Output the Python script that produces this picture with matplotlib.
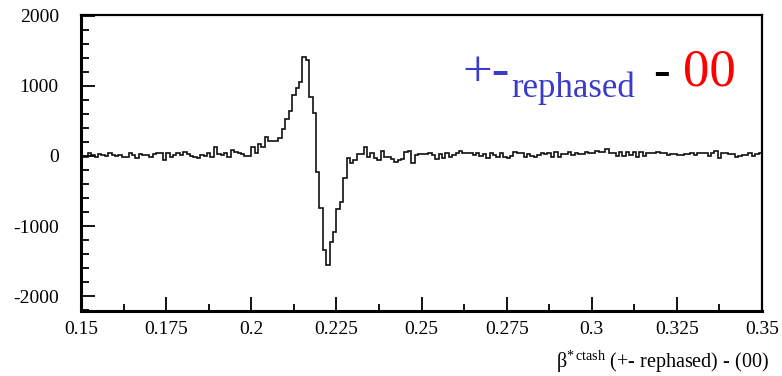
import numpy as np
import matplotlib
matplotlib.use("Agg")
import matplotlib.pyplot as plt
from matplotlib.ticker import MultipleLocator

plt.rcParams["font.family"] = ["Liberation Serif", "DejaVu Serif"]
plt.rcParams["mathtext.fontset"] = "custom"
plt.rcParams["mathtext.rm"] = "Liberation Serif"
plt.rcParams["mathtext.it"] = "Liberation Serif:italic"
plt.rcParams["axes.unicode_minus"] = False

# histogram: 200 bins between 0.15 and 0.35
x_min, x_max, n_bins = 0.15, 0.35, 200

counts_left = [-10, -10, 40, 20, -10, 29, 15, 0, 48, 15, 0, 15, -20, -15, 48,
               15, -33, 29, 10, 20, -10, 35, 38, 38, -57, 38, -20, 15, 48, 15,
               62, 29, 0, -10, -33, 15, 0, 38, -10, 133, 29, 15, 38, -10, 86,
               62, 38, 29, 0]
counts_peak = [0, 133, 38, 167, 133, 276, 214, 214, 214, 252, 381, 524, 648,
               871, 967, 1062, 1410, 1371, 848, 619]
counts_dip = [-224, -738, -1343, -1557, -1224, -1081, -762, -652, -310, -24,
              -105, -57, 24, 24, 133, -10, 48, -33, -57, 75, -10, -20, -45,
              -90, -57]
counts_mid = [-48, 52, 76, -95, 14, 29, 29, 29, 38, 14, -48, 24, -33, 48, -10,
              14, 38, 76, 48, 48, 38, 14, 38, 0, 29, -33, 38, 14, -10, 48, -19,
              -33, 0, 52, 38, 38, -10, 24, 0, -10, 14, 48, 24, 38, -19, 62, -10,
              24, 24, 62]
counts_right = [14, 38, 29, 29, 57, 48, 38, 71, 62, 62, 95, 38, 38, 0, 57, 0,
                62, 14, 62, -10, 62, 0, 38, 48, 48, 62, 38, 38, 14, 29, 29, 14,
                14, 29, 29, 38, 14, 48, 48, 38, 0, 48, 76, -33, 38, 48, 29, 29,
                -10, 0, 14, 14, 38, 0, 29, 38]

counts = np.array(counts_left + counts_peak + counts_dip + counts_mid + counts_right)
edges = np.linspace(x_min, x_max, n_bins + 1)

W, H = 782, 376
fig = plt.figure(figsize=(W / 100, H / 100), dpi=100)
fig.patch.set_facecolor("white")


def px(x, y):
    return x / W, 1 - y / H


ax = fig.add_axes([81 / W, (H - 311) / H, (762 - 81) / W, (311 - 15) / H])
ax.stairs(counts, edges, color="#111111", linewidth=1.2, baseline=None)

ax.set_xlim(x_min, x_max)
ax.set_ylim(-2214, 2014)
ax.xaxis.set_minor_locator(MultipleLocator(0.0125))
ax.yaxis.set_minor_locator(MultipleLocator(200))
ax.set_xticks([0.15, 0.175, 0.2, 0.225, 0.25, 0.275, 0.3, 0.325, 0.35])
ax.set_xticklabels(["0.15", "0.175", "0.2", "0.225", "0.25", "0.275", "0.3",
                    "0.325", "0.35"])
ax.set_yticks([-2000, -1000, 0, 1000, 2000])
ax.set_yticklabels(["-2000", "-1000", "0", "1000", "2000"])

ax.tick_params(which="both", direction="in", top=False, right=False,
               labelsize=14, width=1.3, color="black")
ax.tick_params(axis="x", which="major", length=10, pad=7)
ax.tick_params(axis="x", which="minor", length=5)
ax.tick_params(axis="y", which="major", length=10, pad=16)
ax.tick_params(axis="y", which="minor", length=6)
for side in ["left", "bottom"]:
    ax.spines[side].set_linewidth(2.2)
for side in ["top", "right"]:
    ax.spines[side].set_linewidth(1.6)

# x-axis title
fig.text(*px(769, 362), "\u03b2$^{*\\,\\mathrm{ctash}}$ (+- rephased) - (00)",
         ha="right", va="center", fontsize=14.5, color="black")

# overlay legend text
blue = "#3a3acc"
fig.text(*px(462, 86), "+-", ha="left", va="baseline", fontsize=38, color=blue)
fig.text(*px(511, 97), "rephased", ha="left", va="baseline", fontsize=25,
         color=blue)
fig.text(*px(653, 86), "-", ha="left", va="baseline", fontsize=36,
         color="black")
fig.text(*px(683, 86), "00", ha="left", va="baseline", fontsize=38,
         color="#ff0000")

fig.savefig("out.png", dpi=100)
